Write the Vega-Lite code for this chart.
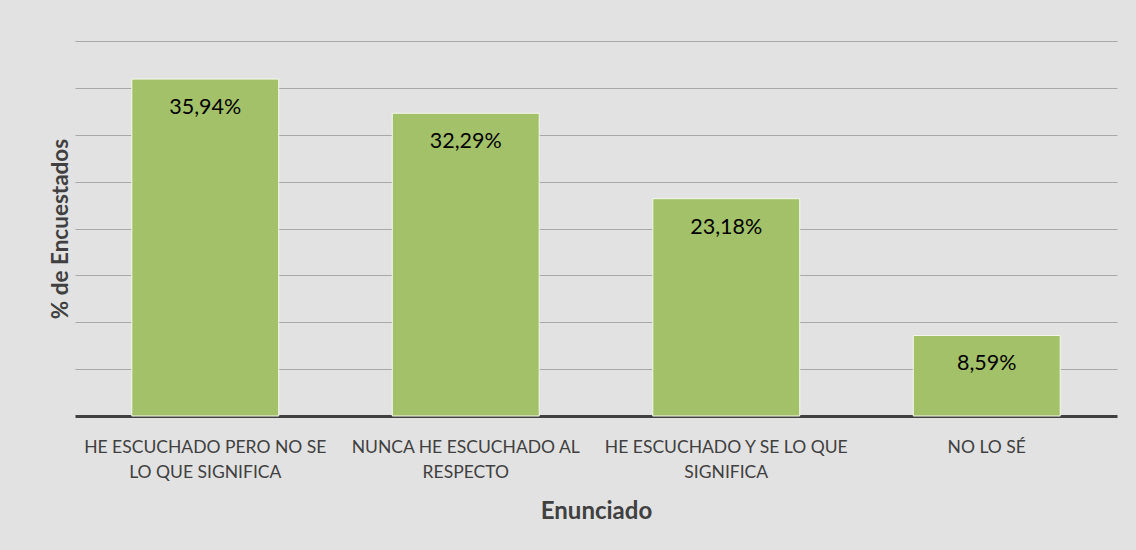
{
  "$schema": "https://vega.github.io/schema/vega-lite/v6.json",
  "width": 1042,
  "height": 375,
  "autosize": {"type": "none"},
  "padding": {"left": 75, "top": 41, "right": 19, "bottom": 134},
  "background": "#e2e2e2",
  "config": {
    "view": {"stroke": null},
    "font": "Lato",
    "locale": {"number": {"decimal": ",", "thousands": ".", "grouping": [3], "currency": ["", " €"]}}
  },
  "data": {
    "values": [
      {"enunciado": "HE ESCUCHADO PERO NO SE LO QUE SIGNIFICA", "pct": 0.3594},
      {"enunciado": "NUNCA HE ESCUCHADO AL RESPECTO", "pct": 0.3229},
      {"enunciado": "HE ESCUCHADO Y SE LO QUE SIGNIFICA", "pct": 0.2318},
      {"enunciado": "NO LO SÉ", "pct": 0.0859}
    ]
  },
  "encoding": {
    "x": {
      "field": "enunciado",
      "type": "nominal",
      "sort": null,
      "scale": {"paddingInner": 0.436, "paddingOuter": 0.218},
      "axis": {
        "title": "Enunciado",
        "titleFont": "Lato",
        "titleFontSize": 24,
        "titleFontWeight": "bold",
        "titleColor": "#404040",
        "titlePadding": 19,
        "labelAngle": 0,
        "labelFont": "Lato",
        "labelFontSize": 17.5,
        "labelColor": "#404040",
        "labelPadding": 22,
        "labelLineHeight": 25,
        "labelLimit": 300,
        "ticks": false,
        "domainColor": "#404040",
        "domainWidth": 3,
        "labelExpr": "datum.value == 'HE ESCUCHADO PERO NO SE LO QUE SIGNIFICA' ? ['HE ESCUCHADO PERO NO SE', 'LO QUE SIGNIFICA'] : datum.value == 'NUNCA HE ESCUCHADO AL RESPECTO' ? ['NUNCA HE ESCUCHADO AL', 'RESPECTO'] : datum.value == 'HE ESCUCHADO Y SE LO QUE SIGNIFICA' ? ['HE ESCUCHADO Y SE LO QUE', 'SIGNIFICA'] : datum.value"
      }
    },
    "y": {
      "field": "pct",
      "type": "quantitative",
      "scale": {"domain": [0, 0.4], "nice": false},
      "axis": {
        "title": "% de Encuestados",
        "titleFont": "Lato",
        "titleFontSize": 22.5,
        "titleFontWeight": "bold",
        "titleColor": "#404040",
        "titlePadding": 3,
        "labels": false,
        "ticks": false,
        "domain": false,
        "values": [0.05, 0.1, 0.15, 0.2, 0.25, 0.3, 0.35, 0.4],
        "gridColor": "#a8a8a8",
        "gridWidth": 1
      }
    }
  },
  "layer": [
    {
      "mark": {"type": "bar", "color": "#a3c169", "stroke": "#f4f8ec", "strokeWidth": 1}
    },
    {
      "mark": {"type": "text", "baseline": "middle", "dy": 29, "font": "Lato", "fontSize": 21.5, "color": "#000000"},
      "encoding": {
        "text": {"field": "pct", "type": "quantitative", "format": ".2%"}
      }
    }
  ]
}
